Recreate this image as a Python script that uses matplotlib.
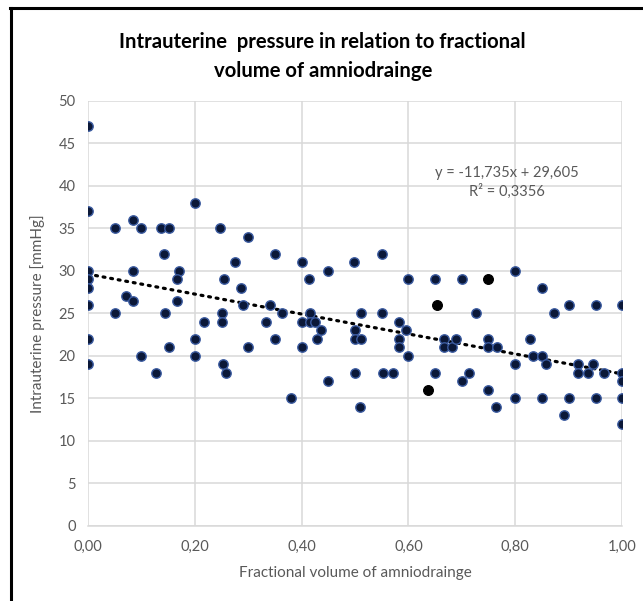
import numpy as np
import matplotlib
matplotlib.use("Agg")
import matplotlib.pyplot as plt
from matplotlib.ticker import FuncFormatter, MultipleLocator

plt.rcParams['font.family'] = ['Lato', 'DejaVu Sans']

# fractional volume of amniodrainage vs intrauterine pressure
frac_vol = [0, 0, 0, 0, 0, 0, 0, 0,
            0.05, 0.05, 0.072, 0.084, 0.084, 0.084, 0.10, 0.10, 0.127, 0.136,
            0.151, 0.142, 0.145, 0.151, 0.17, 0.167, 0.167, 0.20, 0.20, 0.20,
            0.218, 0.247, 0.25, 0.25, 0.255, 0.252, 0.258, 0.275, 0.286, 0.29,
            0.30, 0.30, 0.334, 0.34, 0.35, 0.35, 0.364, 0.381, 0.40, 0.40, 0.40,
            0.414, 0.416, 0.416, 0.425, 0.428, 0.436, 0.45, 0.45, 0.499, 0.50,
            0.50, 0.50, 0.509, 0.511, 0.511, 0.55, 0.55, 0.552, 0.571, 0.583,
            0.583, 0.583, 0.596, 0.60, 0.60, 0.65, 0.65, 0.6675, 0.666, 0.681,
            0.689, 0.70, 0.70, 0.714, 0.7275, 0.75, 0.75, 0.75, 0.764, 0.766,
            0.80, 0.80, 0.80, 0.828, 0.834, 0.851, 0.851, 0.851, 0.8575, 0.8725,
            0.892, 0.901, 0.901, 0.9175, 0.9175, 0.936, 0.945, 0.951, 0.951,
            0.966, 1.0, 1.0, 1.0, 1.0, 1.0]
pressure = [47, 37, 30, 29, 28, 26, 22, 19,
            35, 25, 27, 36, 30, 26.5, 35, 20, 18, 35,
            35, 32, 25, 21, 30, 29, 26.5, 38, 22, 20,
            24, 35, 25, 24, 29, 19, 18, 31, 28, 26,
            34, 21, 24, 26, 32, 22, 25, 15, 31, 24, 21,
            29, 25, 24, 24, 22, 23, 30, 17, 31, 23,
            22, 18, 14, 25, 22, 32, 25, 18, 18, 24,
            22, 21, 23, 29, 20, 29, 18, 22, 21, 21,
            22, 29, 17, 18, 25, 22, 21, 16, 14, 21,
            30, 19, 15, 22, 20, 28, 20, 15, 19, 25,
            13, 26, 15, 19, 18, 18, 19, 26, 15,
            18, 26, 18, 17, 15, 12]

# the three highlighted (black) cases
hl_vol = [0.654, 0.749, 0.636]
hl_pressure = [26, 29, 16]

# linear trendline as reported on the chart
slope = -11.735
intercept = 29.605
r_squared = 0.3356

fig = plt.figure(figsize=(6.43, 6.01), dpi=100)
ax = fig.add_axes([0.1369, 0.1251, 0.8304, 0.7073])

grid_col = '#d9d9d9'
text_col = '#595959'

ax.scatter(frac_vol, pressure, s=46, color='#0b1838', edgecolors='#3b5ba0',
           linewidths=1.0, zorder=3)
ax.scatter(hl_vol, hl_pressure, s=50, color='black', edgecolors='black',
           linewidths=0.8, zorder=4)

xs = np.array([0.0, 1.0])
ax.plot(xs, slope * xs + intercept, color='black', lw=2.3,
        linestyle=(0, (0.6, 1.8)), dash_capstyle='round', zorder=2)

ax.set_xlim(0, 1.0)
ax.set_ylim(0, 50)
ax.xaxis.set_major_locator(MultipleLocator(0.2))
ax.yaxis.set_major_locator(MultipleLocator(5))
ax.xaxis.set_major_formatter(FuncFormatter(lambda v, p: ('%.2f' % v).replace('.', ',')))
ax.grid(True, color=grid_col, lw=1.1, zorder=0)
ax.set_axisbelow(True)
for side in ['top', 'right', 'left']:
    ax.spines[side].set_visible(False)
ax.spines['bottom'].set_color(grid_col)
ax.spines['bottom'].set_linewidth(1.1)
ax.tick_params(length=0, labelsize=10.5, labelcolor=text_col, pad=9)
ax.tick_params(axis='x', pad=10)

ax.set_xlabel('Fractional volume of amniodrainge', fontsize=11, color=text_col, labelpad=9)
ax.set_ylabel('Intrauterine pressure [mmHg]', fontsize=11, color=text_col, labelpad=10)

eq = 'y = -11,735x + 29,605'
ax.text(0.785, 40.4, eq + '\nR² = ' + ('%.4f' % r_squared).replace('.', ','),
        ha='center', va='center', fontsize=10.5, color=text_col, linespacing=1.25)

fig.text(0.502, 0.906, 'Intrauterine  pressure in relation to fractional\nvolume of amniodrainge',
         ha='center', va='center', fontsize=14.6, fontweight='bold', color='black',
         linespacing=1.52)

# chart frame (only top and left edges are visible in the crop)
fig.add_artist(plt.Line2D([10 / 643, 1], [1 - 8 / 601, 1 - 8 / 601], color='black', lw=2.2))
fig.add_artist(plt.Line2D([11 / 643, 11 / 643], [0, 1 - 8 / 601], color='black', lw=2.2))

fig.savefig('out.png', dpi=100, facecolor='white')
